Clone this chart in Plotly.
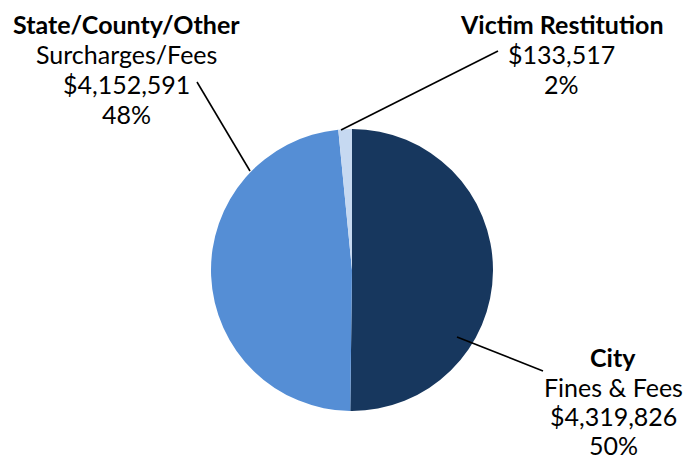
import plotly.graph_objects as go

W, H = 688, 459

categories = ["City", "State/County/Other", "Victim Restitution"]
subtitles = ["Fines & Fees", "Surcharges/Fees", ""]
values = [4319826, 4152591, 133517]
pct_labels = ["50%", "48%", "2%"]
colors = ["#17375e", "#558ed5", "#c6d9f1"]

def px(x):
    return x / W

def py(y):
    return 1 - y / H

cx, cy, r = 352, 270, 141

fig = go.Figure(go.Pie(
    labels=categories,
    values=values,
    sort=False,
    direction="clockwise",
    rotation=0,
    textinfo="none",
    hoverinfo="label+value+percent",
    marker=dict(colors=colors, line=dict(width=0)),
    domain=dict(x=[px(cx - r), px(cx + r)], y=[py(cy + r), py(cy - r)]),
    showlegend=False,
))

FONT = "Lato"
FS = 25

def fmt_money(v):
    return "${:,}".format(v)

# label blocks: (category index, center x, list of row center y)
blocks = [
    (1, 126, [24, 54, 84, 114]),
    (2, 561, [24, 54, 84]),
    (0, 613, [357, 387, 416, 445]),
]

annotations = []
for idx, bx, rows in blocks:
    lines = ["<b>" + categories[idx] + "</b>"]
    if subtitles[idx]:
        lines.append(subtitles[idx])
    lines.append(fmt_money(values[idx]))
    lines.append(pct_labels[idx])
    for text, yy in zip(lines, rows):
        annotations.append(dict(
            x=px(bx), y=py(yy), xref="paper", yref="paper",
            text=text, showarrow=False, xanchor="center", yanchor="middle",
            borderpad=0,
            font=dict(family=FONT, size=FS, color="#000000"),
        ))

leader_lines = [
    (197, 82, 250, 171),
    (341, 130, 498, 51),
    (457, 337, 543, 371),
]
shapes = [
    dict(type="line", xref="paper", yref="paper",
         x0=px(x0), y0=py(y0), x1=px(x1), y1=py(y1),
         line=dict(color="#000000", width=1.6))
    for x0, y0, x1, y1 in leader_lines
]

fig.update_layout(
    width=W, height=H,
    margin=dict(l=0, r=0, t=0, b=0),
    paper_bgcolor="white", plot_bgcolor="white",
    annotations=annotations,
    shapes=shapes,
)

fig.write_html(
    "out.html",
    config={"displayModeBar": False},
    post_script="document.body.style.margin='0';document.body.style.overflow='hidden';",
)
